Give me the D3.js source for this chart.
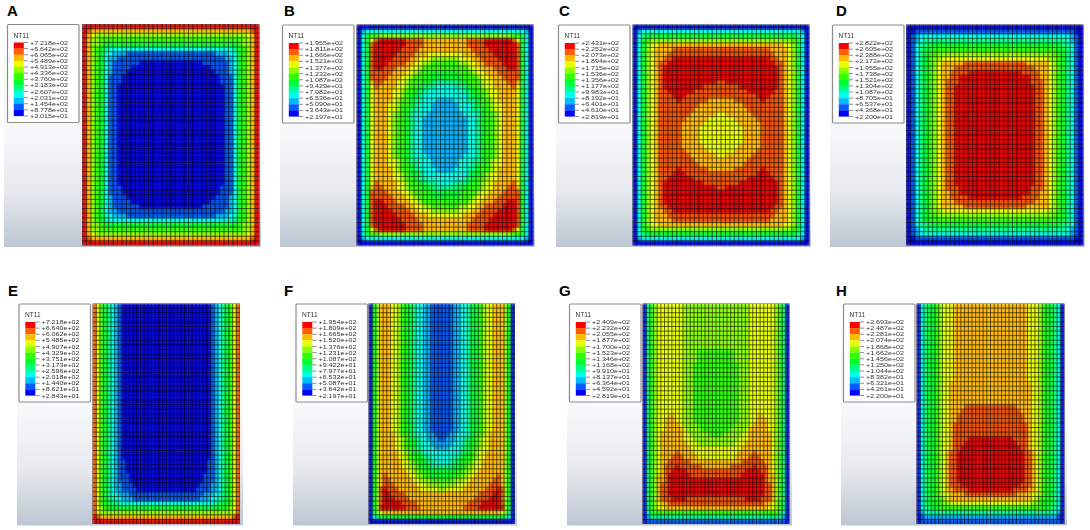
<!DOCTYPE html>
<html>
<head>
<meta charset="utf-8">
<script src="https://cdn.jsdelivr.net/npm/d3@7"></script>
<style>
body { margin: 0; background: #fff; }
svg { display: block; }
.mesh-cells { filter: blur(1.05px); }
.mesh-edges { filter: blur(0.4px); }
.legend-text { filter: blur(0.25px); }
</style>
</head>
<body>
<div id="chart"></div>
<script>
// contour band per mesh cell, one string per row, left half only (0 = lowest band ... b = highest)
// "text*n" means the row repeats n times, a short row keeps its last band up to the middle
const rowsA = ["b", "ba9", "b987", "b9776", "b97765", "b976543", "b9765332221", "b97653221", "b9765321111110", "b97653211110", "b9765321110", "b976531110*2", "b97653110*11"];
const rowsB = ["0", "023", "035667", "0358abbbbbbaaaa9", "035abbbbbbbaaaa9", "035abbbbbbaaaa9", "035abbbbbaaaa9998", "035abbbbaaaa998887", "035abbbaaaa9988776", "035abbaaa9998876", "035aaaaa9998876665", "035aaaa9998876665", "0359aa999887666554", "0358a99998876654443", "03589999887665443", "0358999988765543", "0358999987665443332", "035899988766543332", "035899988765443332", "03589998766543332", "0358999876654332*4"];
const rowsC = ["0", "023", "0345", "03567", "0357889", "035789999a", "03578999a", "0357899aab", "035789aab", "035789ab*3", "035789abbbbbbbbbbbba", "035789abbbbbbbbba", "035789aabbbbbba", "035789aaabbba", "035789aaaabaaaaaa9", "035789aaaaaaaaa9", "035789aaaaaaaa9", "035789aaaaaaa9999998", "035789aaaaaa999998", "035789aaaaa999998", "035789aaaaa99998*2"];
const rowsD = ["0", "001", "0123", "01234", "013445", "0134556", "01345667", "013456778", "0134567899999a", "01345678999a", "0134567899aaaab", "0134567899aab", "013456789aaab", "013456789aab*11"];
const rowsE = ["a86543210*34", "a865432110*3", "a8654321110*2", "a86543221110", "a865432211110", "a8654332221", "a86544332221", "a8655443", "a8765", "a87", "ba9", "b"];
const rowsF = ["057999887655433221*28", "0579999876654333221", "05799998876554332221", "057999988765543332", "0579999887665443332", "0579999988765543", "057999998876655443", "0579999998876655443", "057999999887765554", "05799999998877665", "0579a9999998877665", "0579aa999999887776", "0579aaa9999998887", "057abaaa999999888887", "057abbaaaa9", "057abbbaaaa9", "057abbbbbaaaa9", "057bbbbbbbaaaa9", "04789", "0345", "0"];
const rowsG = ["046788888887*10", "0467888888877776*3", "046788888887776*11", "046788899887776", "046788999887776", "0467889999877776", "04678899999877776", "0467899999988777776", "046789999998887", "0467899999998887", "04678999999998", "046789999a99998", "04678999aaa99998", "0467899aaaaaa9", "046789aaabaaaaaa9", "046789aabbbba", "046799abbbbbba", "046799ab", "04679aab*3", "04679aaabbbba", "0467899a", "0467889", "0356", "024", "01"];
const rowsH = ["03455678889*17", "0345567889*5", "0345567889999a", "034556788999a", "03455678899a*2", "0345567889a*3", "0345567889aaaab", "0345567889aaab", "0345567889aab", "034556789aab*7", "034556789aaab", "0345567899aaaab", "0345567889999a", "0345566789", "0345556778", "03445566", "0234", "012", "01"];

// legend labels, top to bottom
const legendA = ["+7.218e+02", "+6.642e+02", "+6.065e+02", "+5.489e+02", "+4.913e+02", "+4.336e+02", "+3.760e+02", "+3.183e+02", "+2.607e+02", "+2.031e+02", "+1.454e+02", "+8.778e+01", "+3.015e+01"];
const legendB = ["+1.955e+02", "+1.811e+02", "+1.666e+02", "+1.521e+02", "+1.377e+02", "+1.232e+02", "+1.087e+02", "+9.429e+01", "+7.982e+01", "+6.536e+01", "+5.090e+01", "+3.643e+01", "+2.197e+01"];
const legendC = ["+2.431e+02", "+2.252e+02", "+2.073e+02", "+1.894e+02", "+1.715e+02", "+1.536e+02", "+1.356e+02", "+1.177e+02", "+9.983e+01", "+8.192e+01", "+6.401e+01", "+4.610e+01", "+2.819e+01"];
const legendD = ["+2.822e+02", "+2.605e+02", "+2.388e+02", "+2.172e+02", "+1.955e+02", "+1.738e+02", "+1.521e+02", "+1.304e+02", "+1.087e+02", "+8.705e+01", "+6.537e+01", "+4.368e+01", "+2.200e+01"];
const legendE = ["+7.218e+02", "+6.640e+02", "+6.062e+02", "+5.485e+02", "+4.907e+02", "+4.329e+02", "+3.751e+02", "+3.173e+02", "+2.596e+02", "+2.018e+02", "+1.440e+02", "+8.621e+01", "+2.843e+01"];
const legendF = ["+1.954e+02", "+1.809e+02", "+1.665e+02", "+1.520e+02", "+1.376e+02", "+1.231e+02", "+1.087e+02", "+9.422e+01", "+7.977e+01", "+6.532e+01", "+5.087e+01", "+3.642e+01", "+2.197e+01"];
const legendG = ["+2.409e+02", "+2.232e+02", "+2.055e+02", "+1.877e+02", "+1.700e+02", "+1.523e+02", "+1.346e+02", "+1.168e+02", "+9.910e+01", "+8.137e+01", "+6.364e+01", "+4.592e+01", "+2.819e+01"];
const legendH = ["+2.693e+02", "+2.487e+02", "+2.281e+02", "+2.074e+02", "+1.868e+02", "+1.662e+02", "+1.456e+02", "+1.250e+02", "+1.044e+02", "+8.382e+01", "+6.321e+01", "+4.261e+01", "+2.200e+01"];

const bandColors = ["#0000ff", "#005dff", "#00b9ff", "#00ffe8", "#00ff8b", "#00ff2e", "#2eff00", "#8bff00", "#e8ff00", "#ffb900", "#ff5d00", "#ff0000"];
// the mesh reads darker than the legend at both ends of the scale
const meshColors = ["#0000d8", "#0050e8", "#00b0f8"].concat(bandColors.slice(3, 10), ["#f05000", "#e00000"]);

const width = 1090;
const height = 530;
const meshCols = 40;
const meshRows = 48;

// page layout of each panel: l = legend box left edge, x0/x1 = mesh sides, y0/y1 = mesh top and bottom
const panels = [
    { name: "A", rows: rowsA, legend: legendA, fold: true, labelX: 7, labelY: 15.5, l: 7.5, x0: 82, x1: 259.5, y0: 24, y1: 245.5, bgL: 4, bgR: 261 },
    { name: "B", rows: rowsB, legend: legendB, fold: true, labelX: 284, labelY: 15.5, l: 282.5, x0: 356.5, x1: 533.5, y0: 24.5, y1: 245.5, bgL: 280, bgR: 535 },
    { name: "C", rows: rowsC, legend: legendC, fold: true, labelX: 559, labelY: 15.5, l: 558.5, x0: 632.5, x1: 809.5, y0: 24.5, y1: 245.5, bgL: 556, bgR: 811 },
    { name: "D", rows: rowsD, legend: legendD, fold: true, labelX: 836, labelY: 15.5, l: 832.5, x0: 906, x1: 1083.5, y0: 24.5, y1: 245.5, bgL: 830, bgR: 1085 },
    { name: "E", rows: rowsE, legend: legendE, fold: false, labelX: 8, labelY: 296, l: 19, x0: 92.5, x1: 240, y0: 303.5, y1: 524, bgL: 17, bgR: 243 },
    { name: "F", rows: rowsF, legend: legendF, fold: false, labelX: 284, labelY: 296, l: 296, x0: 368.5, x1: 515, y0: 303.5, y1: 524, bgL: 293, bgR: 517 },
    { name: "G", rows: rowsG, legend: legendG, fold: false, labelX: 559, labelY: 296, l: 569.5, x0: 642.5, x1: 789.5, y0: 303.5, y1: 524, bgL: 567, bgR: 792 },
    { name: "H", rows: rowsH, legend: legendH, fold: false, labelX: 836, labelY: 296, l: 843.5, x0: 916.5, x1: 1064.5, y0: 303.5, y1: 524, bgL: 841, bgR: 1067 }
];

// expand the row notation to one full row of band numbers per mesh row
function expandRows(rows, fold) {
    let out = [];
    rows.forEach(r => {
        const parts = r.split("*");
        const n = parts.length > 1 ? +parts[1] : 1;
        const half = parts[0].padEnd(meshCols / 2, parts[0][parts[0].length - 1]);
        const values = Array.from(half, c => parseInt(c, 12));
        const full = values.concat(values.slice().reverse());
        for (let i = 0; i < n; i++) out.push(full);
    });
    if (fold) out = out.concat(out.slice().reverse());
    return out;
}

const svg = d3.select("#chart").append("svg")
    .attr("width", width)
    .attr("height", height)
    .attr("viewBox", [0, 0, width, height]);

const defs = svg.append("defs");
const grad = defs.append("linearGradient")
    .attr("id", "panel-bg")
    .attr("x1", 0).attr("x2", 0).attr("y1", 0).attr("y2", 1);
grad.append("stop").attr("offset", "0%").attr("stop-color", "#ffffff");
grad.append("stop").attr("offset", "50%").attr("stop-color", "#f6f7f9");
grad.append("stop").attr("offset", "75%").attr("stop-color", "#e6e9ee");
grad.append("stop").attr("offset", "100%").attr("stop-color", "#bcc6d2");

function drawPanel(p) {
    const g = svg.append("g");
    const cells = expandRows(p.rows, p.fold);

    const x = d3.scaleBand().domain(d3.range(meshCols)).range([p.x0, p.x1]);
    const y = d3.scaleBand().domain(d3.range(meshRows)).range([p.y0, p.y1]);

    g.append("rect")
        .attr("x", p.bgL)
        .attr("y", p.y0)
        .attr("width", p.bgR - p.bgL)
        .attr("height", p.y1 - p.y0 + 1.5)
        .attr("fill", "url(#panel-bg)");

    defs.append("clipPath")
        .attr("id", "clip-" + p.name)
        .append("rect")
        .attr("x", p.x0)
        .attr("y", p.y0)
        .attr("width", p.x1 - p.x0)
        .attr("height", p.y1 - p.y0);

    const clipped = g.append("g").attr("clip-path", "url(#clip-" + p.name + ")");
    const mesh = clipped.append("g").attr("class", "mesh-cells");

    cells.forEach((row, r) => {
        mesh.selectAll(null)
            .data(row)
            .join("rect")
            .attr("x", (d, c) => x(c))
            .attr("y", y(r))
            .attr("width", x.bandwidth() + 0.2)
            .attr("height", y.bandwidth() + 0.2)
            .attr("fill", d => meshColors[d]);
    });

    // element edges
    const edges = clipped.append("g").attr("class", "mesh-edges");

    edges.selectAll("line.v")
        .data(d3.range(meshCols + 1))
        .join("line")
        .attr("class", "v")
        .attr("x1", d => p.x0 + d * x.bandwidth())
        .attr("x2", d => p.x0 + d * x.bandwidth())
        .attr("y1", p.y0)
        .attr("y2", p.y1)
        .attr("stroke", "#000")
        .attr("stroke-opacity", 0.6)
        .attr("stroke-width", 1);

    edges.selectAll("line.h")
        .data(d3.range(meshRows + 1))
        .join("line")
        .attr("class", "h")
        .attr("x1", p.x0)
        .attr("x2", p.x1)
        .attr("y1", d => p.y0 + d * y.bandwidth())
        .attr("y2", d => p.y0 + d * y.bandwidth())
        .attr("stroke", "#000")
        .attr("stroke-opacity", 0.6)
        .attr("stroke-width", 1);

    // legend box
    const top = p.y0;
    g.append("rect")
        .attr("x", p.l)
        .attr("y", top + 0.5)
        .attr("width", 71.5)
        .attr("height", 98)
        .attr("rx", 1)
        .attr("fill", "#fff")
        .attr("stroke", "#8c8c8c")
        .attr("stroke-width", 1.2);

    const legendText = g.append("g").attr("class", "legend-text");

    legendText.append("text")
        .attr("x", p.l + 6)
        .attr("y", top + 13.5)
        .attr("font-family", "Liberation Sans, Arial, sans-serif")
        .attr("font-size", 6.6)
        .attr("fill", "#333")
        .text("NT11");

    const levels = d3.range(12);
    const legendY = d3.scaleBand().domain(levels).range([top + 18.5, top + 92]);

    legendText.selectAll("rect.swatch")
        .data(levels)
        .join("rect")
        .attr("class", "swatch")
        .attr("x", p.l + 6.3)
        .attr("y", d => legendY(d))
        .attr("width", 10)
        .attr("height", legendY.bandwidth() + 0.1)
        .attr("fill", d => bandColors[11 - d]);

    const labelY = d3.scalePoint().domain(d3.range(p.legend.length)).range([top + 18.5, top + 92]);

    legendText.selectAll("line.tick")
        .data(p.legend)
        .join("line")
        .attr("class", "tick")
        .attr("x1", p.l + 16.3)
        .attr("x2", p.l + 20.5)
        .attr("y1", (d, i) => labelY(i))
        .attr("y2", (d, i) => labelY(i))
        .attr("stroke", "#444")
        .attr("stroke-width", 0.6);

    // the labels are wide and low in the reference, so stretch a small font
    legendText.selectAll("text.val")
        .data(p.legend)
        .join("text")
        .attr("class", "val")
        .attr("x", p.l + 22.5)
        .attr("y", (d, i) => labelY(i) + 2)
        .attr("font-family", "Liberation Sans, Arial, sans-serif")
        .attr("font-size", 5.2)
        .attr("textLength", 38)
        .attr("lengthAdjust", "spacingAndGlyphs")
        .attr("fill", "#333")
        .text(d => d);

    // panel letter
    g.append("text")
        .attr("x", p.labelX)
        .attr("y", p.labelY)
        .attr("font-family", "Liberation Sans, Arial, sans-serif")
        .attr("font-weight", "bold")
        .attr("font-size", 15)
        .attr("fill", "#000")
        .text(p.name);
}

panels.forEach(drawPanel);
</script>
</body>
</html>
